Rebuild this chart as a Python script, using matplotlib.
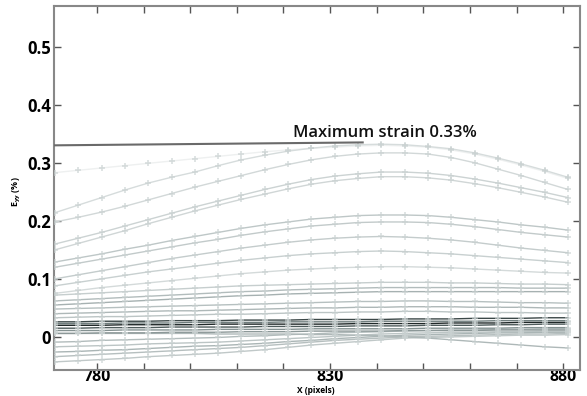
import matplotlib
matplotlib.use("Agg")
import matplotlib.pyplot as plt
import numpy as np

plt.rcParams['font.family'] = ['Open Sans', 'DejaVu Sans']

# x positions of the sampled columns (pixels)
x_pix = [771, 776, 781, 786, 791, 796, 801, 806, 811, 816, 821, 826,
         831, 836, 841, 846, 851, 856, 861, 866, 871, 876, 881]

# upper (light) strain profiles, E_yy in %
top_faint = [0.283, 0.287, 0.291, 0.295, 0.299, 0.303, 0.307, 0.311, 0.315, 0.319, 0.322, 0.325,
             0.327, 0.329, 0.330, 0.329, 0.327, 0.322, 0.315, 0.306, 0.296, 0.285, 0.273]
curve_a = [0.214, 0.227, 0.240, 0.253, 0.265, 0.275, 0.284, 0.295, 0.305, 0.313, 0.320, 0.325,
           0.329, 0.331, 0.332, 0.331, 0.328, 0.324, 0.317, 0.308, 0.298, 0.287, 0.275]
curve_b = [0.198, 0.206, 0.215, 0.225, 0.236, 0.247, 0.258, 0.268, 0.278, 0.288, 0.297, 0.305,
           0.311, 0.315, 0.317, 0.317, 0.315, 0.309, 0.300, 0.289, 0.278, 0.266, 0.254]
curve_c = [0.160, 0.170, 0.180, 0.191, 0.202, 0.213, 0.224, 0.234, 0.244, 0.254, 0.263, 0.271,
           0.277, 0.281, 0.284, 0.284, 0.282, 0.278, 0.272, 0.265, 0.257, 0.249, 0.240]
curve_c2 = [0.150, 0.161, 0.172, 0.183, 0.195, 0.206, 0.217, 0.227, 0.237, 0.246, 0.255, 0.263,
            0.269, 0.273, 0.276, 0.276, 0.274, 0.270, 0.264, 0.257, 0.249, 0.241, 0.232]
curve_d = [0.129, 0.136, 0.143, 0.151, 0.158, 0.166, 0.173, 0.180, 0.187, 0.193, 0.198, 0.203,
           0.206, 0.209, 0.210, 0.210, 0.209, 0.206, 0.202, 0.198, 0.193, 0.189, 0.184]
curve_e = [0.120, 0.127, 0.134, 0.141, 0.148, 0.155, 0.162, 0.168, 0.175, 0.181, 0.186, 0.191,
           0.194, 0.197, 0.198, 0.198, 0.197, 0.194, 0.190, 0.185, 0.180, 0.176, 0.172]
curve_f = [0.100, 0.107, 0.114, 0.121, 0.128, 0.135, 0.141, 0.147, 0.153, 0.158, 0.163, 0.167,
           0.170, 0.172, 0.173, 0.172, 0.170, 0.167, 0.163, 0.158, 0.153, 0.149, 0.145]
curve_g = [0.088, 0.094, 0.100, 0.106, 0.112, 0.117, 0.122, 0.127, 0.132, 0.136, 0.140, 0.143,
           0.145, 0.147, 0.148, 0.147, 0.145, 0.143, 0.140, 0.137, 0.134, 0.131, 0.128]
curve_h = [0.075, 0.080, 0.085, 0.089, 0.093, 0.097, 0.101, 0.105, 0.109, 0.112, 0.115, 0.117,
           0.119, 0.120, 0.121, 0.121, 0.120, 0.119, 0.117, 0.115, 0.113, 0.111, 0.110]

# lower band
low_0 = [0.072, 0.074, 0.076, 0.078, 0.080, 0.082, 0.084, 0.086, 0.088, 0.089, 0.090, 0.091,
         0.092, 0.093, 0.094, 0.094, 0.094, 0.093, 0.093, 0.092, 0.091, 0.091, 0.090]
low_1 = [0.062, 0.064, 0.066, 0.068, 0.070, 0.072, 0.074, 0.076, 0.078, 0.079, 0.081, 0.082,
         0.083, 0.084, 0.085, 0.085, 0.085, 0.085, 0.085, 0.085, 0.084, 0.084, 0.084]
low_2 = [0.055, 0.057, 0.059, 0.061, 0.063, 0.065, 0.067, 0.069, 0.071, 0.072, 0.074, 0.075,
         0.076, 0.077, 0.078, 0.078, 0.078, 0.078, 0.078, 0.078, 0.078, 0.078, 0.078]
low_3 = [0.048, 0.049, 0.050, 0.051, 0.052, 0.053, 0.054, 0.055, 0.056, 0.057, 0.058, 0.059,
         0.060, 0.061, 0.061, 0.062, 0.062, 0.061, 0.061, 0.060, 0.059, 0.059, 0.058]
low_4 = [0.040, 0.041, 0.042, 0.043, 0.044, 0.045, 0.045, 0.046, 0.047, 0.048, 0.049, 0.050,
         0.050, 0.051, 0.051, 0.052, 0.052, 0.052, 0.051, 0.051, 0.051, 0.050, 0.050]
low_5 = [0.033, 0.034, 0.035, 0.035, 0.036, 0.037, 0.038, 0.039, 0.039, 0.040, 0.041, 0.042,
         0.042, 0.043, 0.043, 0.044, 0.044, 0.043, 0.043, 0.042, 0.042, 0.041, 0.041]
dark_1 = [0.026, 0.026, 0.027, 0.027, 0.027, 0.028, 0.028, 0.028, 0.029, 0.029, 0.029, 0.030,
          0.030, 0.030, 0.030, 0.031, 0.031, 0.031, 0.032, 0.032, 0.032, 0.033, 0.033]
dark_2 = [0.020, 0.020, 0.020, 0.021, 0.021, 0.021, 0.021, 0.022, 0.022, 0.022, 0.022, 0.022,
          0.022, 0.023, 0.023, 0.023, 0.023, 0.024, 0.024, 0.024, 0.025, 0.025, 0.025]
dark_3 = [0.015, 0.015, 0.016, 0.016, 0.016, 0.017, 0.017, 0.017, 0.017, 0.018, 0.018, 0.018,
          0.018, 0.019, 0.019, 0.019, 0.020, 0.020, 0.020, 0.021, 0.021, 0.022, 0.022]
dark_4 = [0.011, 0.011, 0.011, 0.012, 0.012, 0.012, 0.012, 0.013, 0.013, 0.013, 0.013, 0.014,
          0.014, 0.014, 0.014, 0.014, 0.015, 0.015, 0.015, 0.015, 0.016, 0.016, 0.016]
dark_5 = [0.023, 0.023, 0.023, 0.024, 0.024, 0.024, 0.025, 0.025, 0.025, 0.025, 0.026, 0.026,
          0.026, 0.026, 0.027, 0.027, 0.027, 0.027, 0.027, 0.028, 0.028, 0.028, 0.028]
mid_1 = [0.006, 0.006, 0.007, 0.007, 0.007, 0.008, 0.008, 0.008, 0.009, 0.009, 0.009, 0.010,
         0.010, 0.010, 0.010, 0.011, 0.011, 0.011, 0.011, 0.012, 0.012, 0.012, 0.012]
desc_1 = [0.006, 0.006, 0.006, 0.006, 0.006, 0.006, 0.006, 0.005, 0.005, 0.005, 0.005, 0.004,
          0.004, 0.003, 0.002, 0.000, -0.002, -0.005, -0.008, -0.011, -0.014, -0.017, -0.019]
bot_1 = [-0.009, -0.008, -0.006, -0.005, -0.004, -0.003, -0.002, -0.001, 0.001, 0.002, 0.004, 0.005,
         0.007, 0.008, 0.009, 0.010, 0.011, 0.012, 0.012, 0.013, 0.013, 0.014, 0.014]
bot_2 = [-0.017, -0.016, -0.015, -0.014, -0.012, -0.011, -0.010, -0.009, -0.007, -0.005, -0.003, -0.001,
         0.001, 0.003, 0.005, 0.006, 0.007, 0.008, 0.008, 0.009, 0.009, 0.010, 0.010]
bot_3 = [-0.026, -0.025, -0.023, -0.022, -0.020, -0.018, -0.016, -0.015, -0.013, -0.011, -0.008, -0.006,
         -0.003, -0.001, 0.001, 0.003, 0.004, 0.005, 0.006, 0.007, 0.007, 0.008, 0.008]
bot_4 = [-0.034, -0.032, -0.030, -0.028, -0.026, -0.024, -0.022, -0.020, -0.018, -0.015, -0.012, -0.009,
         -0.006, -0.004, -0.002, 0.000, 0.001, 0.002, 0.003, 0.004, 0.005, 0.005, 0.006]
bot_5 = [-0.043, -0.041, -0.039, -0.037, -0.034, -0.032, -0.030, -0.028, -0.025, -0.022, -0.018, -0.014,
         -0.011, -0.008, -0.005, -0.002, -0.001, 0.000, 0.001, 0.002, 0.003, 0.003, 0.004]

max_strain = 0.33
max_line_x = [771, 837]
max_line_y = [0.330, 0.335]

curves = [
    (top_faint, '#eef0f0'), (curve_a, '#d6dcdc'), (curve_b, '#d2d8d8'),
    (curve_c, '#ccd3d3'), (curve_c2, '#d0d6d6'), (curve_d, '#bec7c7'),
    (curve_e, '#c2caca'), (curve_f, '#c4cccc'), (curve_g, '#c8d0d0'),
    (curve_h, '#d4dada'),
    (low_0, '#c6cece'), (low_1, '#b2bcbc'), (low_2, '#a6b1b1'),
    (low_3, '#b6c0c0'), (low_4, '#aeb8b8'), (low_5, '#bcc5c5'),
    (bot_1, '#b2bcbc'), (bot_2, '#bcc5c5'), (bot_3, '#aab5b5'),
    (bot_4, '#b6bfbf'), (bot_5, '#c0c8c8'), (desc_1, '#aeb8b8'),
    (mid_1, '#8c9898'), (dark_5, '#6f7d7d'), (dark_4, '#849292'),
    (dark_1, '#3c4848'), (dark_3, '#4f5c5c'), (dark_2, '#1f2828'),
]

fig = plt.figure(figsize=(5.87, 3.96), dpi=100)
ax = fig.add_axes([54/587, 1-370/396, 526/587, 364/396])

for ys, col in curves:
    ax.plot(x_pix, ys, color=col, lw=1.0, zorder=2)
# '+' markers on top of the lines
for ys, col in curves:
    ax.plot(x_pix, ys, ls='none', marker='+', ms=5, mew=1.2,
            color='#c9d1d1', alpha=0.7, zorder=3)

ax.plot(max_line_x, max_line_y, color='#6a6a6a', lw=1.5, zorder=4)
ax.text(822, 0.345, 'Maximum strain %.2f%%' % max_strain, fontsize=12,
        fontweight='semibold', va='baseline', ha='left', color='#111111', zorder=5)

ax.set_xlim(770.8, 883.6)
ax.set_ylim(-0.057, 0.57)
ax.set_xticks(np.arange(780, 881, 10))
ax.set_xticklabels(['780', '', '', '', '', '830', '', '', '', '', '880'])
ax.set_yticks([0, 0.1, 0.2, 0.3, 0.4, 0.5])
ax.set_yticklabels(['0', '0.1', '0.2', '0.3', '0.4', '0.5'])
ax.tick_params(direction='in', top=True, right=True, length=5, width=1,
               color='#555555', labelsize=12, pad=2)
ax.tick_params(axis='x', labelsize=11.5, pad=-1)
for lab in ax.get_xticklabels() + ax.get_yticklabels():
    lab.set_fontweight('bold')
for sp in ax.spines.values():
    sp.set_color('#888888')
    sp.set_linewidth(1.5)

fig.text(17/587, 1-192/396, r'E$_{\mathregular{yy}}$ (%)', rotation=90, fontsize=6.5,
         fontweight='bold', ha='center', va='center')
fig.text(316/587, 1/396, 'X (pixels)', fontsize=6, fontweight='bold',
         ha='center', va='bottom')

fig.savefig('out.png', dpi=100)
